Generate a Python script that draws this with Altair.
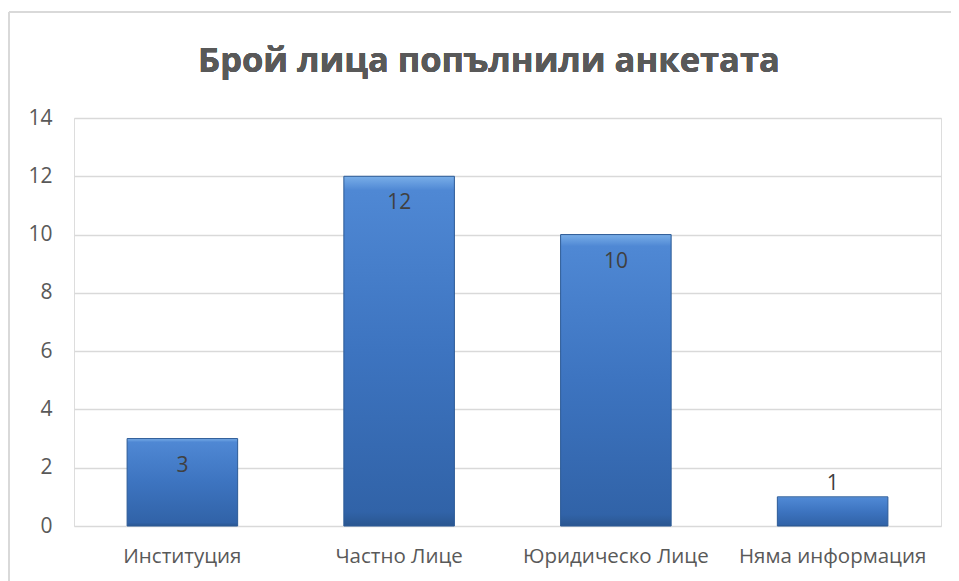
import altair as alt
import pandas as pd

categories = ["Институция", "Частно Лице", "Юридическо Лице", "Няма информация"]
values = [3, 12, 10, 1]
y_ticks = [0, 2, 4, 6, 8, 10, 12, 14]
title_text = "Брой лица попълнили анкетата"

df = pd.DataFrame({"category": categories, "value": values})

FONT = "Open Sans"
TXT = "#595959"

x_enc = alt.X("category:N", sort=categories, title=None,
              scale=alt.Scale(paddingInner=0.49, paddingOuter=0.245),
              axis=alt.Axis(labelAngle=0, labelFontSize=20.5, labelColor=TXT, labelFont=FONT,
                            labelLimit=400, labelOverlap=False,
                            ticks=False, domain=False, labelPadding=20, grid=False))
y_enc = alt.Y("value:Q", title=None,
              scale=alt.Scale(domain=[0, 14], nice=False),
              axis=alt.Axis(values=y_ticks, labelFontSize=21, labelColor=TXT, labelFont=FONT,
                            ticks=False, domain=False, labelPadding=22,
                            gridColor="#d9d9d9", gridWidth=1.3))

grad = alt.Gradient(
    gradient="linear", x1=0, y1=0, x2=0, y2=1,
    stops=[alt.GradientStop(offset=0, color="#79aee8"),
           alt.GradientStop(offset=0.04, color="#4f88d4"),
           alt.GradientStop(offset=0.5, color="#3d74c0"),
           alt.GradientStop(offset=0.96, color="#3163a8"),
           alt.GradientStop(offset=1, color="#2a5690")])

bars = alt.Chart(df).mark_bar(fill=grad, stroke="#2c5a96", strokeWidth=1).encode(x=x_enc, y=y_enc)

inside = alt.Chart(df).transform_filter("datum.value >= 2").mark_text(
    baseline="middle", dy=27, fontSize=21, font=FONT, color="#404040"
).encode(x=alt.X("category:N", sort=categories), y="value:Q", text="value:Q")

outside = alt.Chart(df).transform_filter("datum.value < 2").mark_text(
    baseline="middle", dy=-13, fontSize=21, font=FONT, color="#404040"
).encode(x=alt.X("category:N", sort=categories), y="value:Q", text="value:Q")

frame_top = alt.Chart(df).mark_rule(color="#d9d9d9", strokeWidth=1.5).encode(
    x=alt.value(-65), x2=alt.value(880), y=alt.value(-106))
frame_left = alt.Chart(df).mark_rule(color="#d9d9d9", strokeWidth=1.5).encode(
    x=alt.value(-65), y=alt.value(-106), y2=alt.value(470))

title = alt.Chart(df).mark_text(
    text=title_text, fontSize=34.5, fontWeight="bold", font=FONT, color=TXT, baseline="middle", align="center"
).encode(x=alt.value(415), y=alt.value(-56))

chart = alt.layer(frame_top, frame_left, bars, inside, outside, title).properties(
    width=867, height=408,
    autosize=alt.AutoSizeParams(type="none"),
    padding={"left": 66, "top": 110, "right": 10, "bottom": 55},
).configure_view(stroke=None).configure(background="white")

chart.save("out.html", embed_options={"renderer": "svg", "actions": False})
